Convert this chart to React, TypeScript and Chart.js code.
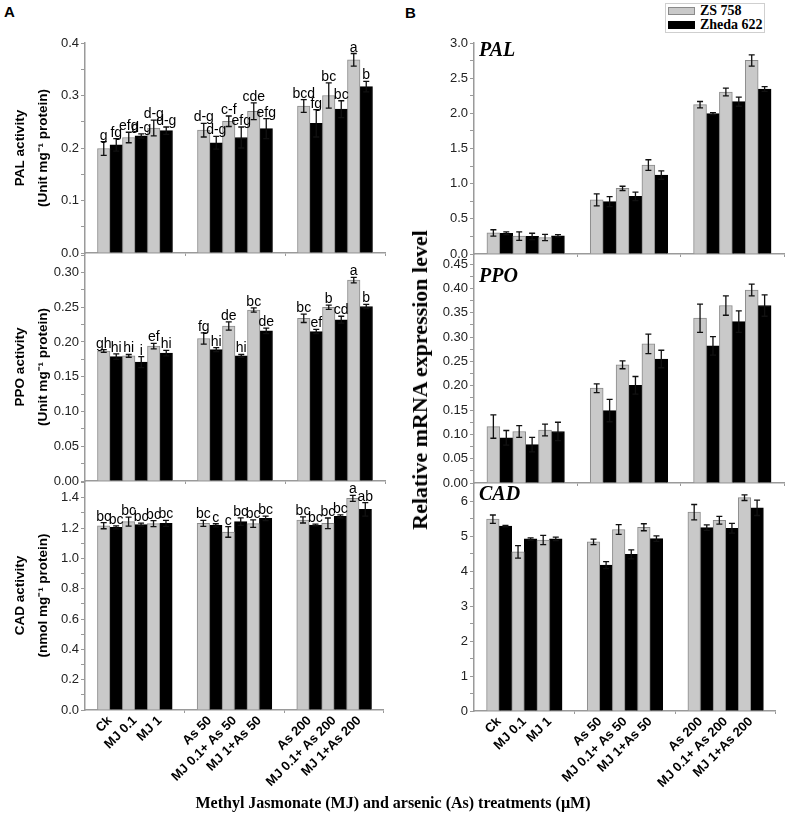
import React, { useEffect, useRef } from 'react';
import { Chart, registerables } from 'chart.js';
Chart.register(...registerables);

// ---------- data ----------
const categories = ['Ck', 'MJ 0.1', 'MJ 1', 'As 50', 'MJ 0.1+ As 50', 'MJ 1+As 50', 'As 200', 'MJ 0.1+ As 200', 'MJ 1+As 200'];
const seriesNames = ['ZS 758', 'Zheda 622'];

// A: enzyme activity
const palActZS = [0.199, 0.220, 0.238, 0.234, 0.251, 0.270, 0.280, 0.300, 0.368];
const palActZSErr = [0.013, 0.010, 0.015, 0.013, 0.010, 0.016, 0.012, 0.024, 0.012];
const palActZD = [0.206, 0.223, 0.233, 0.210, 0.220, 0.237, 0.247, 0.274, 0.317];
const palActZDErr = [0.012, 0.004, 0.007, 0.012, 0.020, 0.019, 0.026, 0.016, 0.010];
const palActZSLetters = ['g', 'efg', 'd-g', 'd-g', 'c-f', 'cde', 'bcd', 'bc', 'a'];
const palActZDLetters = ['fg', 'd-g', 'd-g', 'd-g', 'efg', 'efg', 'fg', 'bc', 'b'];

const ppoActZS = [0.187, 0.180, 0.194, 0.205, 0.223, 0.246, 0.234, 0.250, 0.289];
const ppoActZSErr = [0.002, 0.002, 0.004, 0.008, 0.006, 0.003, 0.006, 0.003, 0.004];
const ppoActZD = [0.179, 0.171, 0.184, 0.189, 0.180, 0.216, 0.215, 0.232, 0.251];
const ppoActZDErr = [0.004, 0.008, 0.004, 0.003, 0.002, 0.004, 0.003, 0.005, 0.003];
const ppoActZSLetters = ['gh', 'hi', 'ef', 'fg', 'de', 'bc', 'bc', 'b', 'a'];
const ppoActZDLetters = ['hi', 'i', 'hi', 'hi', 'hi', 'de', 'ef', 'cd', 'b'];

const cadActZS = [1.215, 1.242, 1.229, 1.231, 1.174, 1.229, 1.253, 1.231, 1.395];
const cadActZSErr = [0.02, 0.03, 0.02, 0.02, 0.035, 0.025, 0.02, 0.035, 0.02];
const cadActZD = [1.204, 1.222, 1.231, 1.218, 1.242, 1.264, 1.220, 1.277, 1.323];
const cadActZDErr = [0.01, 0.01, 0.02, 0.01, 0.025, 0.015, 0.005, 0.01, 0.045];
const cadActZSLetters = ['bc', 'bc', 'bc', 'bc', 'c', 'bc', 'bc', 'bc', 'a'];
const cadActZDLetters = ['bc', 'bc', 'bc', 'c', 'bc', 'bc', 'bc', 'bc', 'ab'];

// B: relative mRNA expression
const palExpZS = [0.300, 0.254, 0.235, 0.769, 0.933, 1.265, 2.123, 2.303, 2.752];
const palExpZSErr = [0.045, 0.06, 0.045, 0.085, 0.03, 0.075, 0.045, 0.055, 0.08];
const palExpZD = [0.295, 0.250, 0.260, 0.745, 0.820, 1.123, 1.996, 2.166, 2.346];
const palExpZDErr = [0.02, 0.045, 0.015, 0.07, 0.06, 0.06, 0.015, 0.065, 0.035];

const ppoExpZS = [0.116, 0.106, 0.109, 0.195, 0.243, 0.286, 0.339, 0.365, 0.397];
const ppoExpZSErr = [0.024, 0.012, 0.012, 0.009, 0.008, 0.02, 0.029, 0.02, 0.012];
const ppoExpZD = [0.093, 0.079, 0.106, 0.149, 0.201, 0.255, 0.282, 0.332, 0.365];
const ppoExpZDErr = [0.015, 0.015, 0.019, 0.023, 0.018, 0.018, 0.019, 0.022, 0.022];

const cadExpZS = [5.485, 4.55, 4.89, 4.835, 5.19, 5.255, 5.685, 5.455, 6.10];
const cadExpZSErr = [0.12, 0.18, 0.13, 0.08, 0.14, 0.10, 0.22, 0.11, 0.08];
const cadExpZD = [5.285, 4.92, 4.92, 4.17, 4.48, 4.93, 5.245, 5.225, 5.81];
const cadExpZDErr = [0.02, 0.03, 0.05, 0.10, 0.13, 0.08, 0.08, 0.14, 0.22];

// ---------- layout helpers ----------
const SLOT_OF = [1, 2, 3, 5, 6, 7, 9, 10, 11];
const SLOT_COUNT = 13;
const toSlots = (arr: number[]) => {
  const out: (number | null)[] = Array(SLOT_COUNT).fill(null);
  arr.forEach((v, i) => { out[SLOT_OF[i]] = v; });
  return out;
};
const slotLabels = (() => {
  const out: string[] = Array(SLOT_COUNT).fill('');
  categories.forEach((c, i) => { out[SLOT_OF[i]] = c; });
  return out;
})();

const GRAY = '#c9c9c9';
const GRAY_EDGE = '#8a8a8a';
const AXIS = '#9a9a9a';
const SANS = '"Liberation Sans", Arial, sans-serif';
const SERIF = '"Liberation Serif", "Times New Roman", serif';

type PanelCfg = {
  side: 'L' | 'R';
  areaTop: number;
  areaBottom: number;
  bottom: boolean;
  max: number;
  step: number;
  dec: number;
  zs: number[]; zsErr: number[];
  zd: number[]; zdErr: number[];
  zsLetters?: string[]; zdLetters?: string[];
  yTitle?: string[];
  inner?: { text: string; dy: number };
};

const panels: PanelCfg[] = [
  { side: 'L', areaTop: 43, areaBottom: 253, bottom: false, max: 0.4, step: 0.1, dec: 1,
    zs: palActZS, zsErr: palActZSErr, zd: palActZD, zdErr: palActZDErr,
    zsLetters: palActZSLetters, zdLetters: palActZDLetters, yTitle: ['PAL activity', '(Unit mg\u207B\u00B9 protein)'] },
  { side: 'L', areaTop: 253, areaBottom: 481, bottom: false, max: 0.328, step: 0.05, dec: 2,
    zs: ppoActZS, zsErr: ppoActZSErr, zd: ppoActZD, zdErr: ppoActZDErr,
    zsLetters: ppoActZSLetters, zdLetters: ppoActZDLetters, yTitle: ['PPO activity', '(Unit mg\u207B\u00B9 protein)'] },
  { side: 'L', areaTop: 481, areaBottom: 710, bottom: true, max: 1.51, step: 0.2, dec: 1,
    zs: cadActZS, zsErr: cadActZSErr, zd: cadActZD, zdErr: cadActZDErr,
    zsLetters: cadActZSLetters, zdLetters: cadActZDLetters, yTitle: ['CAD activity', '(nmol mg\u207B\u00B9 protein)'] },
  { side: 'R', areaTop: 43, areaBottom: 254, bottom: false, max: 3.0, step: 0.5, dec: 1,
    zs: palExpZS, zsErr: palExpZSErr, zd: palExpZD, zdErr: palExpZDErr, inner: { text: 'PAL', dy: 8 } },
  { side: 'R', areaTop: 254, areaBottom: 483, bottom: false, max: 0.471, step: 0.05, dec: 2,
    zs: ppoExpZS, zsErr: ppoExpZSErr, zd: ppoExpZD, zdErr: ppoExpZDErr, inner: { text: 'PPO', dy: 23 } },
  { side: 'R', areaTop: 483, areaBottom: 711, bottom: true, max: 6.52, step: 1, dec: 0,
    zs: cadExpZS, zsErr: cadExpZSErr, zd: cadExpZD, zdErr: cadExpZDErr, inner: { text: 'CAD', dy: 12 } },
];

const PAD_TOP = 12;

function Panel({ p }: { p: PanelCfg }) {
  const ref = useRef<HTMLCanvasElement | null>(null);
  const isL = p.side === 'L';
  const canvasLeft = isL ? 0 : 400;
  const canvasWidth = isL ? 395 : 387;
  const yW = isL ? 85 : 74;
  const padR = isL ? 10 : 3;
  const xH = p.bottom ? 95 : 4;
  const padB = p.bottom ? 0 : 10;
  const canvasTop = p.areaTop - PAD_TOP;
  const canvasHeight = PAD_TOP + (p.areaBottom - p.areaTop) + xH + padB;

  useEffect(() => {
    const isMajor = (v: number) => Math.abs(v / p.step - Math.round(v / p.step)) < 1e-6;
    const annot = {
      id: 'annot',
      afterDatasetsDraw(chart: any) {
        const { ctx } = chart;
        const ys = chart.scales.y;
        const series = [
          { v: p.zs, e: p.zsErr, l: p.zsLetters },
          { v: p.zd, e: p.zdErr, l: p.zdLetters },
        ];
        series.forEach((s, di) => {
          const meta = chart.getDatasetMeta(di);
          s.v.forEach((val, k) => {
            const el = meta.data[SLOT_OF[k]];
            if (!el) return;
            const x = el.x;
            const yTop = ys.getPixelForValue(val + s.e[k]);
            const yBot = ys.getPixelForValue(val - s.e[k]);
            ctx.save();
            ctx.strokeStyle = '#111';
            ctx.lineWidth = 1.3;
            ctx.beginPath();
            ctx.moveTo(x, yTop); ctx.lineTo(x, yBot);
            ctx.moveTo(x - 3, yTop); ctx.lineTo(x + 3, yTop);
            ctx.moveTo(x - 3, yBot); ctx.lineTo(x + 3, yBot);
            ctx.stroke();
            if (s.l) {
              ctx.fillStyle = '#000';
              ctx.font = `14px ${SANS}`;
              ctx.textAlign = 'center';
              ctx.textBaseline = 'alphabetic';
              ctx.fillText(s.l[k], x, yTop - 2);
            }
            ctx.restore();
          });
        });
        if (p.inner) {
          const a = chart.chartArea;
          ctx.save();
          ctx.fillStyle = '#000';
          ctx.font = `italic bold 20px ${SERIF}`;
          ctx.textAlign = 'left';
          ctx.textBaseline = 'middle';
          ctx.fillText(p.inner.text, a.left + 5, a.top + p.inner.dy);
          ctx.restore();
        }
      },
    };

    const chart = new Chart(ref.current as HTMLCanvasElement, {
      type: 'bar',
      data: {
        labels: slotLabels,
        datasets: [
          { label: seriesNames[0], data: toSlots(p.zs), backgroundColor: GRAY, borderColor: GRAY_EDGE, borderWidth: 1, categoryPercentage: 1, barPercentage: 1 },
          { label: seriesNames[1], data: toSlots(p.zd), backgroundColor: '#000', borderColor: '#000', borderWidth: 1, categoryPercentage: 1, barPercentage: 1 },
        ],
      },
      options: {
        responsive: false,
        animation: false,
        events: [],
        layout: { padding: { top: PAD_TOP, bottom: padB, left: 0, right: padR } },
        plugins: { legend: { display: false }, tooltip: { enabled: false } },
        scales: {
          x: {
            type: 'category',
            offset: false,
            grid: {
              offset: false,
              drawOnChartArea: false,
              drawTicks: true,
              tickLength: 3,
              tickColor: (c: any) => ([4, 8, 12].includes(c.index) ? AXIS : 'rgba(0,0,0,0)'),
            },
            border: { color: AXIS, width: 1.5 },
            ticks: {
              display: p.bottom,
              autoSkip: false,
              maxRotation: 45,
              minRotation: 45,
              padding: 0,
              color: '#000',
              font: { family: SANS, size: 13, weight: 'bold' },
            },
            afterFit: (s: any) => { s.height = xH; },
          },
          y: {
            min: 0,
            max: p.max,
            grid: { drawOnChartArea: false, drawTicks: true, tickLength: 4, tickColor: AXIS },
            border: { color: AXIS, width: 1.5 },
            ticks: {
              stepSize: p.step / 2,
              autoSkip: false,
              includeBounds: false,
              padding: 2,
              color: '#222',
              font: { family: SANS, size: 13 },
              callback: (v: any) => (isMajor(Number(v)) ? Number(v).toFixed(p.dec) : ''),
            },
            title: p.yTitle
              ? {
                  display: true,
                  text: p.yTitle,
                  color: '#000',
                  font: { family: SANS, size: 13.5, weight: 'bold', lineHeight: 1.7 },
                  padding: { top: 9, bottom: 0 },
                }
              : { display: false },
            afterFit: (s: any) => { s.width = yW; },
          },
        },
      } as any,
      plugins: [annot],
    });
    return () => chart.destroy();
  }, []);

  return (
    <canvas
      ref={ref}
      width={canvasWidth}
      height={canvasHeight}
      style={{ position: 'absolute', left: canvasLeft, top: canvasTop, width: canvasWidth, height: canvasHeight }}
    />
  );
}

export default function App() {
  return (
    <div style={{ position: 'absolute', left: 0, top: 0, width: 787, height: 815, overflow: 'hidden', background: '#fff' }}>
      {panels.map((p, i) => <Panel key={i} p={p} />)}
      <div style={{ position: 'absolute', left: 4, top: 3, font: `bold 15px ${SANS}` }}>A</div>
      <div style={{ position: 'absolute', left: 405, top: 4, font: `bold 15px ${SANS}` }}>B</div>
      <div style={{ position: 'absolute', left: 665, top: 3, width: 98, height: 28, border: '1px solid #cfcfcf', background: '#fff' }}>
        {seriesNames.map((n, i) => (
          <div key={n} style={{ position: 'absolute', left: 2, top: i === 0 ? 0 : 14, height: 14, display: 'flex', alignItems: 'center' }}>
            <span style={{ display: 'inline-block', width: 25, height: 6, background: i === 0 ? GRAY : '#000', border: `1px solid ${i === 0 ? GRAY_EDGE : '#000'}`, marginRight: 5 }} />
            <span style={{ font: `bold 14px ${SERIF}`, color: '#000', lineHeight: '14px' }}>{n}</span>
          </div>
        ))}
      </div>
      <div style={{ position: 'absolute', left: 393, top: 803, transform: 'translate(-50%, -50%)', whiteSpace: 'nowrap', font: `bold 16px ${SERIF}`, color: '#000' }}>
        Methyl Jasmonate (MJ) and arsenic (As) treatments (µM)
      </div>
      <div style={{ position: 'absolute', left: 420, top: 380, transform: 'translate(-50%, -50%) rotate(-90deg)', whiteSpace: 'nowrap', font: `bold 22px ${SERIF}`, color: '#000' }}>
        Relative mRNA expression level
      </div>
    </div>
  );
}
